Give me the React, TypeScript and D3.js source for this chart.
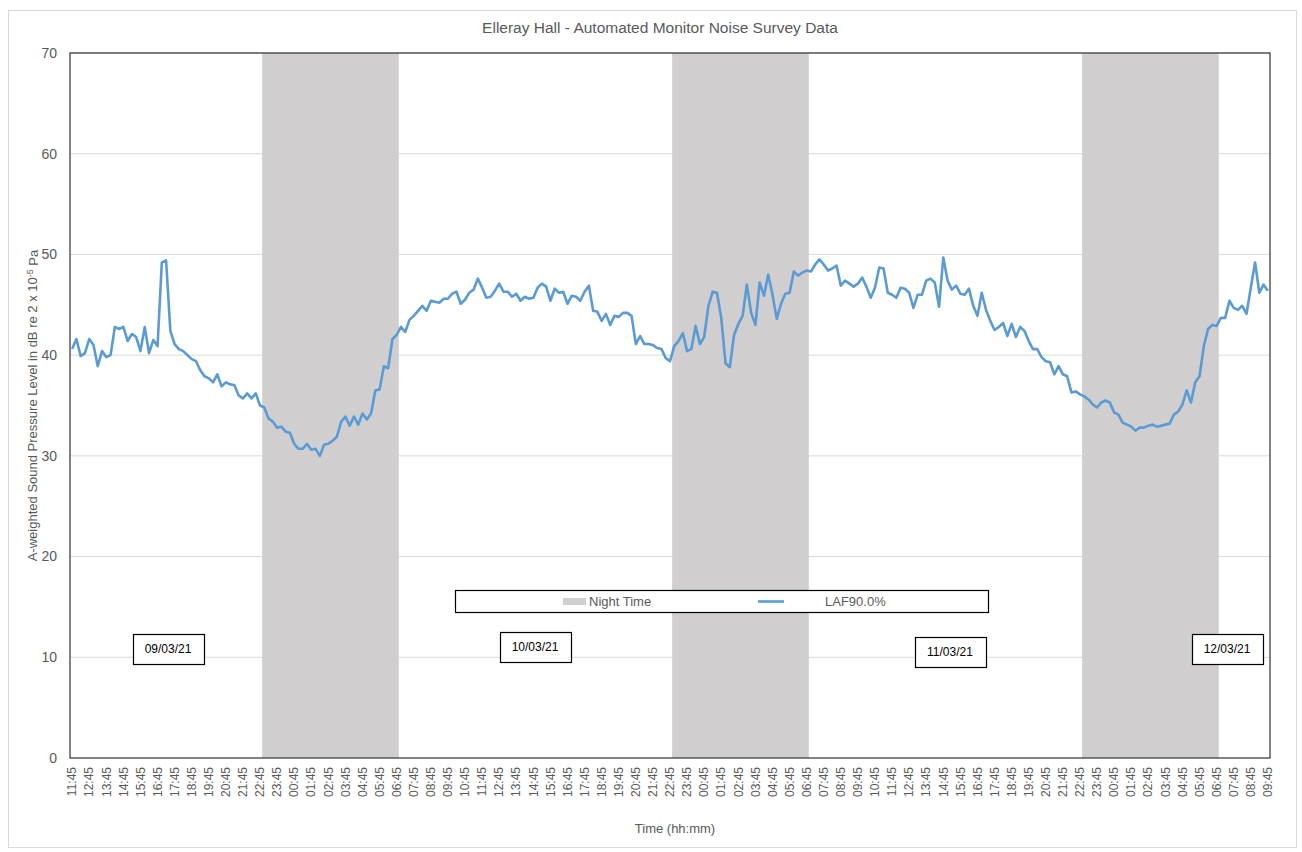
import React, { useEffect, useRef } from 'react';
import * as d3 from 'd3';

// LAF90 values, one per 15 minutes, 09/03/21 11:45 -> 12/03/21 09:45
const laf90 = [
  40.6, 41.6, 39.9, 40.2, 41.6, 41.0, 38.9, 40.4, 39.8, 40.0,
  42.8, 42.6, 42.8, 41.4, 42.1, 41.8, 40.4, 42.8, 40.2, 41.5,
  40.9, 49.2, 49.4, 42.4, 41.1, 40.6, 40.4, 40.0, 39.6, 39.4,
  38.5, 37.9, 37.7, 37.3, 38.1, 36.9, 37.3, 37.1, 37.0, 36.0,
  35.7, 36.2, 35.7, 36.2, 35.0, 34.8, 33.7, 33.4, 32.8, 32.9,
  32.4, 32.3, 31.2, 30.7, 30.7, 31.2, 30.6, 30.7, 30.0, 31.1,
  31.2, 31.5, 31.9, 33.4, 33.9, 33.0, 33.9, 33.1, 34.2, 33.6,
  34.2, 36.5, 36.6, 38.9, 38.7, 41.6, 42.0, 42.8, 42.3, 43.5,
  43.9, 44.4, 44.9, 44.4, 45.4, 45.3, 45.2, 45.6, 45.6, 46.1,
  46.3, 45.1, 45.5, 46.2, 46.5, 47.6, 46.7, 45.7, 45.8, 46.4,
  47.1, 46.3, 46.3, 45.8, 46.1, 45.4, 45.8, 45.6, 45.7, 46.7,
  47.1, 46.8, 45.4, 46.6, 46.2, 46.3, 45.1, 45.9, 45.8, 45.4,
  46.3, 46.9, 44.4, 44.3, 43.4, 44.1, 43.0, 43.9, 43.8, 44.2,
  44.2, 43.9, 41.1, 41.9, 41.1, 41.1, 41.0, 40.7, 40.6, 39.7,
  39.4, 40.9, 41.4, 42.2, 40.4, 40.6, 42.9, 41.1, 41.8, 44.9,
  46.3, 46.2, 43.7, 39.2, 38.8, 42.0, 43.1, 43.9, 47.0, 44.2,
  43.0, 47.2, 45.9, 48.0, 46.0, 43.6, 45.1, 46.1, 46.2, 48.3,
  47.9, 48.2, 48.4, 48.3, 49.0, 49.5, 49.0, 48.4, 48.6, 48.9,
  46.9, 47.4, 47.1, 46.8, 47.1, 47.7, 46.8, 45.7, 46.7, 48.7,
  48.6, 46.2, 46.0, 45.7, 46.7, 46.6, 46.2, 44.7, 46.0, 46.0,
  47.4, 47.6, 47.2, 44.8, 49.7, 47.4, 46.5, 46.9, 46.1, 46.0,
  46.6, 44.9, 43.9, 46.2, 44.5, 43.4, 42.5, 42.8, 43.2, 41.9,
  43.1, 41.8, 42.8, 42.4, 41.4, 40.6, 40.6, 39.8, 39.4, 39.3,
  38.1, 38.9, 38.1, 37.9, 36.3, 36.4, 36.1, 35.9, 35.6, 35.1,
  34.8, 35.3, 35.5, 35.3, 34.3, 34.1, 33.3, 33.1, 32.9, 32.5,
  32.8, 32.8, 33.0, 33.1, 32.9, 33.0, 33.1, 33.2, 34.1, 34.4,
  35.1, 36.5, 35.3, 37.3, 37.9, 40.9, 42.6, 43.0, 42.9, 43.7,
  43.7, 45.4, 44.7, 44.5, 44.9, 44.1, 46.7, 49.2, 46.2, 47.0,
  46.4,
];

// hourly labels shown on the category axis (every 4th sample)
const hourLabels = [
  '11:45', '12:45', '13:45', '14:45', '15:45', '16:45', '17:45', '18:45', '19:45', '20:45',
  '21:45', '22:45', '23:45', '00:45', '01:45', '02:45', '03:45', '04:45', '05:45', '06:45',
  '07:45', '08:45', '09:45', '10:45', '11:45', '12:45', '13:45', '14:45', '15:45', '16:45',
  '17:45', '18:45', '19:45', '20:45', '21:45', '22:45', '23:45', '00:45', '01:45', '02:45',
  '03:45', '04:45', '05:45', '06:45', '07:45', '08:45', '09:45', '10:45', '11:45', '12:45',
  '13:45', '14:45', '15:45', '16:45', '17:45', '18:45', '19:45', '20:45', '21:45', '22:45',
  '23:45', '00:45', '01:45', '02:45', '03:45', '04:45', '05:45', '06:45', '07:45', '08:45',
  '09:45',
];

// night time periods, as sample indices [first, end) (23:00 -> 07:00)
const nightStarts = [45, 141, 237];
const nightEnds = [77, 173, 269];

const dateLabels = ['09/03/21', '10/03/21', '11/03/21', '12/03/21'];
const yTicks = [0, 10, 20, 30, 40, 50, 60, 70];

const FONT = '"Liberation Sans", Arial, sans-serif';
const TEXT = '#595959';

const App = () => {
  const ref = useRef<SVGSVGElement>(null);

  useEffect(() => {
    document.body.style.margin = '0';
    const W = 1302, H = 852;
    const margin = { top: 53, right: 32, bottom: 94, left: 70 };
    const iw = W - margin.left - margin.right;
    const ih = H - margin.top - margin.bottom;

    const svg = d3.select(ref.current);
    svg.selectAll('*').remove();

    svg.append('rect')
      .attr('x', 8.5).attr('y', 10.5)
      .attr('width', 1288).attr('height', 837)
      .attr('fill', 'white').attr('stroke', '#d9d9d9');

    const idx = laf90.map((_, i) => i);
    const x = d3.scalePoint<number>().domain(idx).range([0, iw]).padding(0.5);
    const step = x.step();
    const y = d3.scaleLinear().domain([0, 70]).range([ih, 0]);

    const g = svg.append('g').attr('transform', `translate(${margin.left},${margin.top})`);

    // gridlines
    g.selectAll('line.grid')
      .data(yTicks.slice(1))
      .join('line')
      .attr('x1', 0).attr('x2', iw)
      .attr('y1', d => y(d)).attr('y2', d => y(d))
      .attr('stroke', '#d9d9d9').attr('stroke-width', 1);

    // night shading
    nightStarts.forEach((s, k) => {
      const x0 = x(s)! - step / 2;
      const x1 = x(nightEnds[k])! - step / 2;
      g.append('rect')
        .attr('x', x0).attr('y', 0)
        .attr('width', x1 - x0).attr('height', ih)
        .attr('fill', '#d0cece');
    });

    // series line
    const line = d3.line<number>()
      .x((_, i) => x(i)!)
      .y(d => y(d));
    g.append('path')
      .datum(laf90)
      .attr('d', line)
      .attr('fill', 'none')
      .attr('stroke', '#5b9bd5')
      .attr('stroke-width', 2.6)
      .attr('stroke-linejoin', 'round');

    // date boxes
    const dateBoxes = [
      { cx: 168, cy: 649 - margin.top },
      { cx: 535, cy: 647 - margin.top },
      { cx: 950, cy: 652 - margin.top },
      { cx: 1227, cy: 649 - margin.top },
    ];
    dateLabels.forEach((d, k) => {
      const b = dateBoxes[k];
      g.append('rect')
        .attr('x', b.cx - 35 - margin.left + 0.5).attr('y', b.cy - 15 + 0.5)
        .attr('width', 71).attr('height', 30)
        .attr('fill', 'white').attr('stroke', '#000').attr('stroke-width', 1.2);
      g.append('text')
        .attr('x', b.cx - margin.left).attr('y', b.cy)
        .attr('dy', '0.35em')
        .attr('text-anchor', 'middle')
        .style('font-family', FONT).style('font-size', '12px')
        .attr('fill', '#000')
        .text(d);
    });

    // legend
    const lg = g.append('g').attr('transform', `translate(${455 - margin.left},${590 - margin.top})`);
    lg.append('rect').attr('x', 0.5).attr('y', 0.5).attr('width', 533).attr('height', 22)
      .attr('fill', 'white').attr('stroke', '#000').attr('stroke-width', 1.2);
    lg.append('rect').attr('x', 108).attr('y', 8).attr('width', 23).attr('height', 7).attr('fill', '#d0cece');
    lg.append('text').attr('x', 134).attr('y', 11.5).attr('dy', '0.35em')
      .style('font-family', FONT).style('font-size', '13px').attr('fill', TEXT).text('Night Time');
    lg.append('line').attr('x1', 303).attr('x2', 329).attr('y1', 11.5).attr('y2', 11.5)
      .attr('stroke', '#5b9bd5').attr('stroke-width', 2.6);
    lg.append('text').attr('x', 370).attr('y', 11.5).attr('dy', '0.35em')
      .style('font-family', FONT).style('font-size', '13px').attr('fill', TEXT).text('LAF90.0%');

    // plot frame
    g.append('rect')
      .attr('x', 0).attr('y', 0).attr('width', iw).attr('height', ih)
      .attr('fill', 'none').attr('stroke', '#404040').attr('stroke-width', 1.3);

    // y labels
    g.selectAll('text.ylab')
      .data(yTicks)
      .join('text')
      .attr('x', -13).attr('y', d => y(d))
      .attr('dy', '0.35em')
      .attr('text-anchor', 'end')
      .style('font-family', FONT).style('font-size', '14px')
      .attr('fill', TEXT)
      .text(d => d);

    // x labels
    g.selectAll('text.xlab')
      .data(hourLabels)
      .join('text')
      .attr('transform', (_, k) => `translate(${x(k * 4)},${ih + 9}) rotate(-90)`)
      .attr('dy', '0.35em')
      .attr('text-anchor', 'end')
      .style('font-family', FONT).style('font-size', '12px')
      .attr('fill', TEXT)
      .text(d => d);

    // titles
    svg.append('text')
      .attr('x', 660).attr('y', 28).attr('dy', '0.35em')
      .attr('text-anchor', 'middle')
      .style('font-family', FONT).style('font-size', '15.5px')
      .attr('fill', TEXT)
      .text('Elleray Hall - Automated Monitor Noise Survey Data');

    svg.append('text')
      .attr('x', 675).attr('y', 828).attr('dy', '0.35em')
      .attr('text-anchor', 'middle')
      .style('font-family', FONT).style('font-size', '13px')
      .attr('fill', TEXT)
      .text('Time (hh:mm)');

    const yt = svg.append('text')
      .attr('transform', `translate(32,${margin.top + ih / 2}) rotate(-90)`)
      .attr('dy', '0.35em')
      .attr('text-anchor', 'middle')
      .style('font-family', FONT).style('font-size', '13px')
      .attr('fill', TEXT);
    yt.append('tspan').text('A-weighted Sound Pressure Level in dB re 2 x 10');
    yt.append('tspan').attr('dy', '-0.4em').style('font-size', '9px').text('-5');
    yt.append('tspan').attr('dy', '0.4em').text(' Pa');
  }, []);

  return <svg ref={ref} width={1302} height={852} style={{ display: 'block' }} />;
};

export default App;
